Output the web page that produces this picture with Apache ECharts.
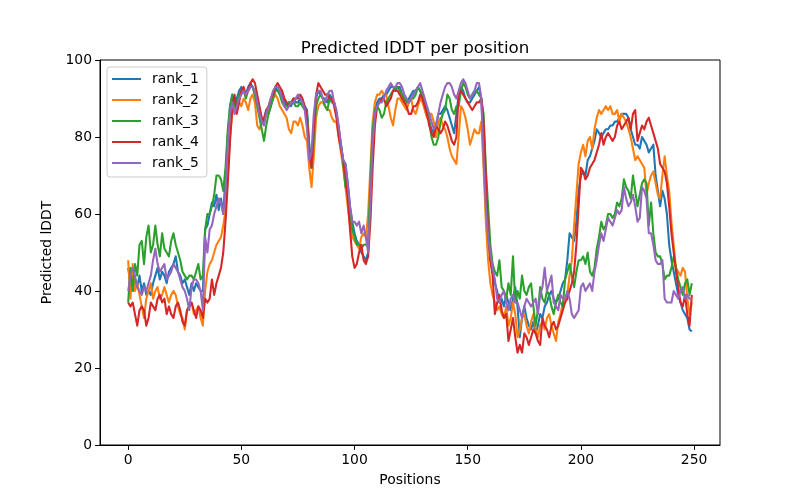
<!DOCTYPE html>
<html>
<head>
<meta charset="utf-8">
<script src="https://cdn.jsdelivr.net/npm/echarts@6.0.0/dist/echarts.min.js"></script>
<style>html,body{margin:0;padding:0;background:#fff;}#chart{width:800px;height:500px;}</style>
</head>
<body>
<div id="chart"></div>
<script>
const seriesNames = ['rank_1', 'rank_2', 'rank_3', 'rank_4', 'rank_5'];
const xTicks = [0, 50, 100, 150, 200, 250];
const yTicks = [0, 20, 40, 60, 80, 100];

const rank_1 = [
46, 42, 40, 43, 41, 44, 40, 42, 39, 40,
39, 42, 44, 46, 43, 45, 44, 42, 45, 46,
47, 49, 45, 44, 42, 43, 41, 39, 42, 40,
42, 41, 40, 40, 56, 57, 60, 63, 62, 65,
61, 64, 60, 70, 80, 88, 91, 87, 90, 92,
93, 92, 91, 93, 94, 93, 91, 89, 86, 84,
85, 87, 86, 88, 90, 93, 92, 92, 91, 89,
88, 89, 88, 90, 89, 89, 90, 89, 88, 87,
78, 73, 80, 90, 92, 91, 90, 90, 89, 91,
90, 89, 86, 82, 78, 74, 73, 68, 62, 58,
55, 53, 52, 50, 49, 48, 50, 65, 80, 87,
89, 90, 90, 91, 91, 92, 93, 93, 92, 93,
93, 91, 90, 89, 90, 91, 92, 92, 93, 92,
90, 88, 86, 84, 82, 81, 83, 86, 86, 87,
88, 87, 85, 83, 81, 86, 91, 93, 92, 90,
89, 89, 90, 91, 92, 93, 90, 78, 64, 55,
48, 45, 42, 40, 37, 38, 36, 39, 37, 35,
38, 41, 36, 28, 33, 36, 33, 31, 30, 32,
29, 31, 34, 33, 36, 37, 39, 40, 38, 37,
38, 40, 42, 43, 48, 55, 54, 53, 58, 66,
70, 71, 70, 74, 75, 77, 79, 82, 81, 80,
81, 82, 82, 83, 83, 84, 84, 85, 86, 86,
86, 85, 82, 80, 78, 78, 77, 80, 79, 78,
76, 77, 78, 70, 66, 62, 66, 64, 60, 52,
48, 45, 42, 39, 37, 35, 34, 33, 30, 29.5
];
const rank_2 = [
48, 38, 47, 40, 42, 39, 36, 33, 38, 40,
42, 38, 40, 41, 38, 39, 41, 39, 37, 39,
40, 39, 36, 34, 33, 30, 35, 36, 37, 34,
35, 36, 33, 31, 40, 45, 47, 48, 50, 52,
53, 54, 57, 61, 70, 80, 86, 88, 87, 89,
88, 90, 89, 87, 90, 91, 89, 83, 82, 84,
84, 86, 87, 89, 90, 91, 90, 88, 87, 86,
85, 82, 81, 84, 84, 83, 85, 83, 80, 79,
72, 67, 75, 85, 88, 89, 89, 88, 87, 87,
85, 84, 84, 80, 76, 72, 67, 62, 57, 54,
53, 52, 51, 54, 55, 54, 60, 72, 84, 89,
91, 91, 92, 91, 91, 88, 85, 83, 87, 90,
90, 89, 88, 87, 89, 90, 87, 86, 88, 90,
89, 87, 85, 86, 86, 84, 80, 84, 85, 83,
82, 80, 77, 75, 74, 73, 80, 88, 87, 85,
82, 78, 80, 82, 81, 81, 84, 72, 58, 48,
42, 39, 37, 35, 36, 34, 33, 36, 31, 33,
37, 34, 28, 30, 33, 34, 31, 29, 32, 34,
30, 28, 31, 32, 30, 33, 34, 31, 29, 27,
32, 34, 37, 38, 39, 44, 48, 57, 65, 73,
76, 78, 75, 79, 80, 77, 82, 85, 87, 86,
87, 88, 87, 88, 86, 86, 87, 84, 86, 85,
84, 82, 80, 77, 74, 75, 74, 73, 72, 65,
68, 70, 71, 68, 65, 64, 70, 75, 70, 66,
58, 52, 46, 45, 44, 46, 45, 38, 34, 37
];
const rank_3 = [
37, 46, 40, 47, 44, 52, 53, 47, 54, 57,
50, 52, 57, 52, 49, 55, 51, 50, 49, 53,
55, 52, 50, 48, 45, 44, 43, 44, 44, 43,
45, 47, 43, 44, 56, 60, 60, 62, 65, 70,
70, 69, 66, 72, 82, 88, 91, 88, 89, 91,
92, 92, 90, 92, 93, 93, 91, 88, 85, 82,
79, 83, 86, 88, 90, 92, 92, 91, 89, 88,
88, 89, 89, 89, 88, 88, 89, 88, 87, 86,
77, 72, 80, 88, 90, 91, 90, 88, 87, 90,
89, 89, 86, 82, 78, 73, 67, 66, 60, 56,
54, 52, 52, 51, 52, 52, 53, 68, 82, 87,
88, 87, 85, 86, 89, 90, 91, 92, 93, 93,
92, 91, 90, 89, 89, 90, 90, 91, 93, 92,
91, 89, 87, 84, 80, 78, 78, 80, 84, 86,
87, 91, 90, 87, 86, 88, 88, 92, 94, 93,
91, 90, 91, 92, 92, 91, 90, 86, 72, 62,
52, 47, 45, 44, 48, 41, 40, 38, 42, 39,
49, 37, 40, 38, 44, 40, 39, 41, 42, 36,
31, 35, 41, 38, 37, 40, 39, 36, 34, 37,
39, 37, 36, 43, 45, 47, 44, 41, 45, 48,
48, 49, 47, 50, 45, 44, 46, 51, 54, 58,
56, 57, 60, 60, 59, 60, 63, 62, 64, 69,
67, 66, 64, 70, 66, 62, 65, 68, 69, 68,
57, 63, 55, 50, 49, 49, 47, 43, 44, 44,
46, 49, 46, 43, 41, 39, 42, 43, 39, 42
];
const rank_4 = [
37, 36, 37, 34, 31, 35, 36, 35, 31, 33,
37, 36, 35, 38, 39, 37, 38, 34, 36, 34,
33, 36, 37, 35, 32, 31, 35, 36, 37, 35,
33, 36, 35, 33, 38, 37, 38, 43, 39, 42,
44, 46, 50, 58, 68, 79, 88, 91, 86, 89,
92, 93, 91, 92, 94, 95, 94, 91, 88, 85,
84, 87, 88, 90, 91, 93, 94, 93, 92, 90,
89, 88, 89, 90, 90, 90, 91, 90, 88, 85,
76, 72, 82, 91, 94, 93, 92, 91, 91, 90,
90, 88, 85, 80, 77, 74, 70, 64, 56, 49,
46, 47, 50, 52, 48, 47, 49, 58, 72, 83,
88, 89, 90, 90, 88, 89, 90, 92, 92, 92,
91, 90, 89, 88, 86, 86, 88, 88, 89, 91,
90, 88, 86, 83, 81, 80, 83, 82, 81, 82,
84, 83, 81, 79, 78, 80, 91, 92, 91, 90,
89, 88, 87, 88, 89, 89, 90, 84, 70, 55,
48, 44, 34, 37, 39, 35, 33, 34, 27, 30,
33, 28, 24, 26, 24, 29, 28, 26, 28, 30,
29, 27, 26, 33, 31, 30, 28, 31, 32, 30,
31, 33, 35, 37, 38, 40, 42, 45, 52, 62,
72, 71, 69, 70, 72, 73, 74, 76, 78, 81,
78, 80, 81, 80, 79, 80, 83, 84, 82, 83,
84, 85, 82, 86, 87, 79, 81, 83, 82, 84,
85, 83, 81, 79, 77, 73, 72, 71, 68, 62,
55, 50, 45, 41, 37, 36, 39, 34, 31, 39
];
const rank_5 = [
40, 44, 46, 44, 41, 40, 39, 41, 40, 42,
44, 48, 51, 47, 45, 46, 47, 43, 44, 45,
47, 46, 45, 43, 41, 40, 38, 35, 41, 43,
43, 42, 40, 35, 54, 50, 56, 57, 60, 62,
64, 63, 60, 66, 78, 86, 89, 86, 88, 90,
91, 92, 91, 92, 93, 93, 92, 89, 86, 84,
83, 86, 88, 90, 92, 93, 93, 92, 90, 88,
87, 88, 89, 89, 90, 91, 90, 89, 87, 82,
74, 76, 86, 91, 92, 92, 90, 89, 91, 92,
92, 89, 87, 83, 78, 74, 73, 68, 62, 58,
58, 57, 58, 55, 57, 54, 50, 63, 79, 86,
88, 89, 89, 90, 92, 93, 94, 93, 93, 94,
94, 93, 91, 90, 89, 90, 91, 92, 93, 94,
92, 90, 88, 86, 84, 82, 83, 86, 89, 91,
93, 94, 94, 93, 91, 90, 92, 94, 95, 94,
92, 90, 91, 92, 94, 94, 90, 74, 62, 54,
50, 46, 43, 38, 37, 39, 40, 37, 35, 38,
39, 37, 37, 35, 33, 36, 38, 37, 36, 37,
38, 34, 39, 41, 46, 40, 42, 44, 37, 36,
35, 39, 38, 38, 40, 38, 34, 33, 34, 35,
41, 42, 40, 41, 42, 40, 45, 48, 52, 55,
53, 56, 59, 58, 57, 59, 61, 60, 61, 67,
64, 62, 63, 65, 62, 58, 59, 67, 66, 64,
55, 55, 52, 48, 47, 47, 48, 38, 37, 37,
37, 40, 39, 38, 40, 41, 38, 39, 38, 38
];

const seriesValues = [rank_1, rank_2, rank_3, rank_4, rank_5];
const colors = ['#1f77b4', '#ff7f0e', '#2ca02c', '#d62728', '#9467bd'];
const FONT = 'DejaVu Sans';

const chart = echarts.init(document.getElementById('chart'), null, {renderer: 'canvas'});
chart.setOption({
  animation: false,
  backgroundColor: '#ffffff',
  title: {
    text: 'Predicted lDDT per position',
    left: 410, top: 35, textAlign: 'center',
    textStyle: {fontFamily: FONT, fontSize: 16.7, fontWeight: 'normal', color: '#000'}
  },
  legend: {
    orient: 'vertical', left: 107, top: 67,
    padding: [5, 8, 7, 5],
    itemWidth: 29, itemHeight: 2, itemGap: 7,
    icon: 'rect',
    backgroundColor: 'rgba(255,255,255,0.8)',
    borderColor: '#cccccc', borderWidth: 1, borderRadius: 3,
    textStyle: {fontFamily: FONT, fontSize: 13.9, color: '#000', lineHeight: 14, padding: [0, 0, 0, 6]},
    data: seriesNames
  },
  grid: {left: 100, right: 80, top: 60, bottom: 55, show: true, borderColor: '#000', borderWidth: 1, backgroundColor: 'transparent'},
  xAxis: {
    type: 'value', min: -12.45, max: 261.45,
    name: 'Positions', nameLocation: 'middle', nameGap: 28,
    nameTextStyle: {fontFamily: FONT, fontSize: 13.9, color: '#000'},
    axisLine: {show: true, onZero: false, lineStyle: {color: '#000', width: 1}},
    axisTick: {show: true, length: 4.9, inside: false, customValues: xTicks, lineStyle: {color: '#000'}},
    axisLabel: {show: true, customValues: xTicks, margin: 8, fontFamily: FONT, fontSize: 13.9, color: '#000'},
    splitLine: {show: false}
  },
  yAxis: {
    type: 'value', min: 0, max: 100, interval: 20,
    name: 'Predicted lDDT', nameLocation: 'middle', nameGap: 37, nameRotate: 90,
    nameTextStyle: {fontFamily: FONT, fontSize: 13.9, color: '#000'},
    axisLine: {show: true, onZero: false, lineStyle: {color: '#000', width: 1}},
    axisTick: {show: true, length: 4.9, inside: false, lineStyle: {color: '#000'}},
    axisLabel: {show: true, margin: 8, fontFamily: FONT, fontSize: 13.9, color: '#000',
      formatter: function (v) { return yTicks.indexOf(v) >= 0 ? String(v) : ''; }},
    splitLine: {show: false}
  },
  series: seriesNames.map(function (name, k) {
    return {
      name: name, type: 'line', showSymbol: false, symbol: 'none',
      color: colors[k],
      lineStyle: {width: 2.08, color: colors[k], join: 'round', cap: 'butt'},
      data: seriesValues[k].map(function (v, i) { return [i, v]; })
    };
  })
});
</script>
</body>
</html>
